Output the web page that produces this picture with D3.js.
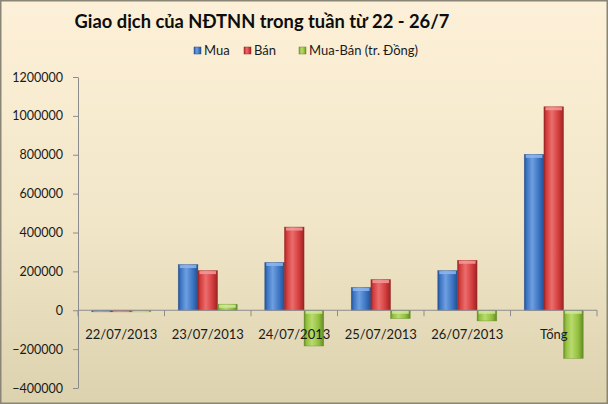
<!DOCTYPE html>
<html>
<head>
<meta charset="utf-8">
<script src="https://cdn.jsdelivr.net/npm/d3@7"></script>
<style>
  html, body { margin: 0; padding: 0; background: #fff; }
  svg { display: block; }
  text { font-family: Lato, "Open Sans", sans-serif; }
</style>
</head>
<body>
<svg id="chart" width="608" height="404"></svg>
<script>
// ---- data ----
const title = "Giao dịch của NĐTNN trong tuần từ 22 - 26/7";
const categories = ["22/07/2013", "23/07/2013", "24/07/2013", "25/07/2013", "26/07/2013", "Tổng"];
const seriesNames = ["Mua", "Bán", "Mua-Bán (tr. Đồng)"];
const mua    = [-8000, 235000, 246000, 117000, 204000, 802000];
const ban    = [-8000, 204000, 428000, 158000, 257000, 1047000];
const muaBan = [-8000, 31000, -184000, -43000, -55000, -248000];
const yTicks = [-400000, -200000, 0, 200000, 400000, 600000, 800000, 1000000, 1200000];

const seriesValues = [mua, ban, muaBan];
const colors = [
  { base: "#3b74c2", light: "#6e9fe0", dark: "#244f8f", cap: "#8db6ee" },
  { base: "#d23c3c", light: "#ec6d6d", dark: "#9a2424", cap: "#f39a9a" },
  { base: "#93bf3e", light: "#b9db6e", dark: "#638a25", cap: "#d0e79e" }
];

const W = 608, H = 404;
const svg = d3.select("#chart");
const defs = svg.append("defs");

// background gradient
const bg = defs.append("linearGradient").attr("id", "bg").attr("x1", 0).attr("y1", 0).attr("x2", 0).attr("y2", 1);
bg.append("stop").attr("offset", "0%").attr("stop-color", "#fdf0d8");
bg.append("stop").attr("offset", "55%").attr("stop-color", "#f1e6c8");
bg.append("stop").attr("offset", "100%").attr("stop-color", "#dcd2ae");

colors.forEach((c, i) => {
  const g = defs.append("linearGradient").attr("id", "bar" + i).attr("x1", 0).attr("y1", 0).attr("x2", 1).attr("y2", 0);
  g.append("stop").attr("offset", "0%").attr("stop-color", c.dark);
  g.append("stop").attr("offset", "12%").attr("stop-color", c.base);
  g.append("stop").attr("offset", "40%").attr("stop-color", c.light);
  g.append("stop").attr("offset", "75%").attr("stop-color", c.base);
  g.append("stop").attr("offset", "100%").attr("stop-color", c.dark);
});

svg.append("rect").attr("x", 0.5).attr("y", 0.5).attr("width", W - 1).attr("height", H - 1)
  .attr("fill", "url(#bg)").attr("stroke", "#8a8677").attr("stroke-width", 2);

// ---- scales ----
const y = d3.scaleLinear().domain([-400000, 1200000]).range([388, 77]);
const x = d3.scaleBand().domain(categories).range([78, 597]).paddingInner(0).paddingOuter(0);
const xs = d3.scaleBand().domain(d3.range(3)).range([0, x.bandwidth()]).paddingInner(0).paddingOuter(0.7);

// ---- y axis ----
const yAxis = d3.axisLeft(y).tickValues(yTicks).tickFormat(d3.format("d")).tickSizeInner(5).tickSizeOuter(0).tickPadding(10);
const ya = svg.append("g").attr("transform", "translate(78,0)").call(yAxis);
ya.select(".domain").attr("stroke", "#8c8c8c");
ya.selectAll(".tick line").attr("stroke", "#8c8c8c");
ya.selectAll(".tick text").attr("fill", "#1a1a1a").style("font-size", "12.5px").style("font-family", "Lato, sans-serif");

// ---- bars ----
const gBars = svg.append("g");
seriesValues.forEach((vals, si) => {
  const grp = gBars.append("g");
  grp.selectAll("rect.bar").data(vals).join("rect")
    .attr("class", "bar")
    .attr("x", (d, i) => x(categories[i]) + xs(si))
    .attr("y", d => y(Math.max(0, d)))
    .attr("width", xs.bandwidth())
    .attr("height", d => Math.abs(y(d) - y(0)))
    .attr("fill", "url(#bar" + si + ")")
    .attr("stroke", colors[si].dark)
    .attr("stroke-opacity", 0.6)
    .attr("stroke-width", 0.6);
  // bevel cap on the outer end
  grp.selectAll("rect.cap").data(vals).join("rect")
    .attr("class", "cap")
    .attr("x", (d, i) => x(categories[i]) + xs(si) + 1.5)
    .attr("y", d => d >= 0 ? y(d) + 0.5 : y(0) + 0.5)
    .attr("width", xs.bandwidth() - 3)
    .attr("height", d => Math.max(0, Math.min(3, Math.abs(y(d) - y(0)) - 0.5)))
    .attr("fill", colors[si].cap)
    .attr("opacity", 0.85);
});

// ---- x axis (at zero) ----
const xAxisG = svg.append("g").attr("transform", `translate(0,${y(0)})`);
xAxisG.append("line").attr("x1", 78).attr("x2", 597).attr("y1", 0).attr("y2", 0).attr("stroke", "#8c8c8c");
const boundaries = categories.map(c => x(c)).concat([x(categories[categories.length - 1]) + x.bandwidth()]);
xAxisG.selectAll("line.tk").data(boundaries).join("line").attr("class", "tk")
  .attr("x1", d => d).attr("x2", d => d).attr("y1", 0).attr("y2", 6).attr("stroke", "#8c8c8c");
xAxisG.selectAll("text").data(categories).join("text")
  .attr("x", d => x(d) + x.bandwidth() / 2)
  .attr("y", 29)
  .attr("text-anchor", "middle")
  .attr("fill", "#1a1a1a")
  .style("font-size", "13px")
  .text(d => d);

// ---- title ----
const t = svg.append("text").attr("x", 262).attr("y", 28).attr("text-anchor", "middle")
  .attr("font-weight", "bold").style("font-size", "20px").attr("fill", "#0d0d0d").text(title);
const tw = t.node().getComputedTextLength();
t.style("font-size", (20 * 375 / tw).toFixed(2) + "px");

// ---- legend ----
const legendX = [194, 244, 299];
const lg = svg.append("g");
seriesNames.forEach((name, i) => {
  lg.append("rect").attr("x", legendX[i]).attr("y", 47).attr("width", 7).attr("height", 7)
    .attr("fill", "url(#bar" + i + ")").attr("stroke", colors[i].dark).attr("stroke-width", 0.5);
  lg.append("text").attr("x", legendX[i] + 10).attr("y", 55).attr("fill", "#1a1a1a")
    .style("font-size", "13px").text(name);
});
</script>
</body>
</html>
